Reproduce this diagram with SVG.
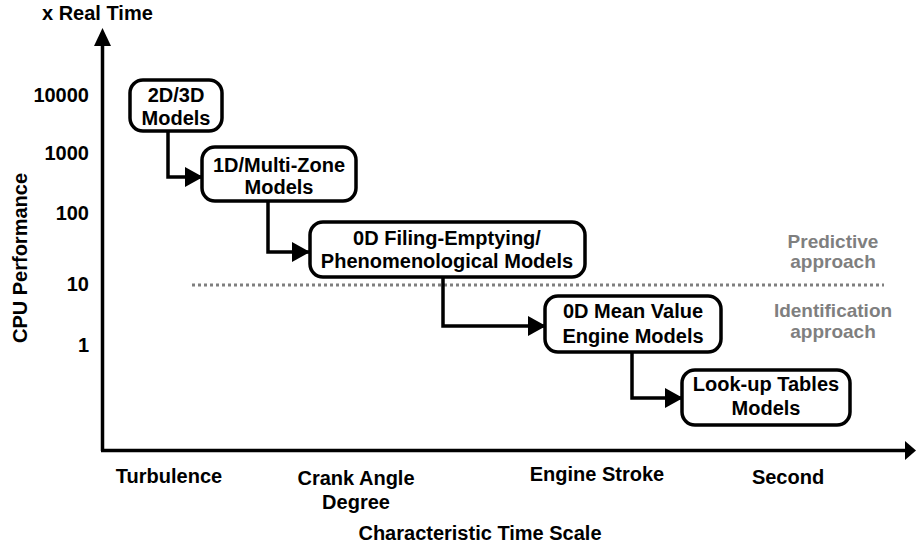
<svg xmlns="http://www.w3.org/2000/svg" width="916" height="548" viewBox="0 0 916 548">
<defs>
<style>
text{font-family:"Liberation Sans",Arial,sans-serif;font-weight:bold;fill:#000}
.box{fill:#fff;stroke:#000;stroke-width:3.5}
.bt{font-size:20px;text-anchor:middle}
.ax{font-size:20px}
.mid{text-anchor:middle}
.end{text-anchor:end}
.gr{fill:#7f7f7f;font-size:19px;text-anchor:middle}
.con{fill:none;stroke:#000;stroke-width:3.5}
</style>
<marker id="ah" markerWidth="18" markerHeight="20" refX="17" refY="10" orient="auto" markerUnits="userSpaceOnUse" viewBox="0 0 18 20">
<path d="M0,0 L18,10 L0,20 Z" fill="#000"/>
</marker>
</defs>
<rect width="916" height="548" fill="#fff"/>
<g id="axes">
<line x1="102.5" y1="42" x2="102.5" y2="451" stroke="#000" stroke-width="3.5"/>
<path d="M94,46 L102.5,28 L111,46 Z" fill="#000"/>
<line x1="101" y1="450.5" x2="908" y2="450.5" stroke="#000" stroke-width="3.5"/>
<path d="M905,441 L916,450.5 L905,460 Z" fill="#000"/>
<text x="42" y="20" class="ax">x Real Time</text>
<text x="27" y="258" class="ax mid" transform="rotate(-90 27 258)">CPU Performance</text>
<text x="89" y="102" class="ax end">10000</text>
<text x="89" y="160" class="ax end">1000</text>
<text x="89" y="220" class="ax end">100</text>
<text x="89" y="291" class="ax end">10</text>
<text x="89" y="352" class="ax end">1</text>
<text x="169" y="483" class="ax mid">Turbulence</text>
<text x="356" y="485" class="ax mid">Crank Angle</text>
<text x="356" y="509" class="ax mid">Degree</text>
<text x="597" y="481" class="ax mid">Engine Stroke</text>
<text x="788" y="484" class="ax mid">Second</text>
<text x="480" y="540" class="ax mid">Characteristic Time Scale</text>
</g>
<g id="divider">
<line x1="192" y1="285" x2="884" y2="285" stroke="#7f7f7f" stroke-width="3" stroke-dasharray="3,3"/>
<text x="833" y="248" class="gr">Predictive</text>
<text x="833" y="268" class="gr">approach</text>
<text x="833" y="317" class="gr">Identification</text>
<text x="833" y="338" class="gr">approach</text>
</g>
<g id="connectors">
<path class="con" d="M168,132 V177 H202" marker-end="url(#ah)"/>
<path class="con" d="M268,202 V252 H309" marker-end="url(#ah)"/>
<path class="con" d="M443,278 V326 H545" marker-end="url(#ah)"/>
<path class="con" d="M632,352 V398 H682" marker-end="url(#ah)"/>
</g>
<g id="n1">
<rect class="box" x="130" y="80" width="92" height="51" rx="13"/>
<text class="bt" x="176" y="102">2D/3D</text>
<text class="bt" x="176" y="125">Models</text>
</g>
<g id="n2">
<rect class="box" x="202" y="147" width="154" height="54" rx="13"/>
<text class="bt" x="279" y="172">1D/Multi-Zone</text>
<text class="bt" x="279" y="194">Models</text>
</g>
<g id="n3">
<rect class="box" x="310" y="222" width="275" height="55" rx="13"/>
<text class="bt" x="447" y="245">0D Filing-Emptying/</text>
<text class="bt" x="447" y="268">Phenomenological Models</text>
</g>
<g id="n4">
<rect class="box" x="545" y="296" width="176" height="56" rx="13"/>
<text class="bt" x="633" y="318">0D Mean Value</text>
<text class="bt" x="633" y="343">Engine Models</text>
</g>
<g id="n5">
<rect class="box" x="682" y="370" width="168" height="55" rx="13"/>
<text class="bt" x="766" y="391">Look-up Tables</text>
<text class="bt" x="766" y="415">Models</text>
</g>
</svg>
